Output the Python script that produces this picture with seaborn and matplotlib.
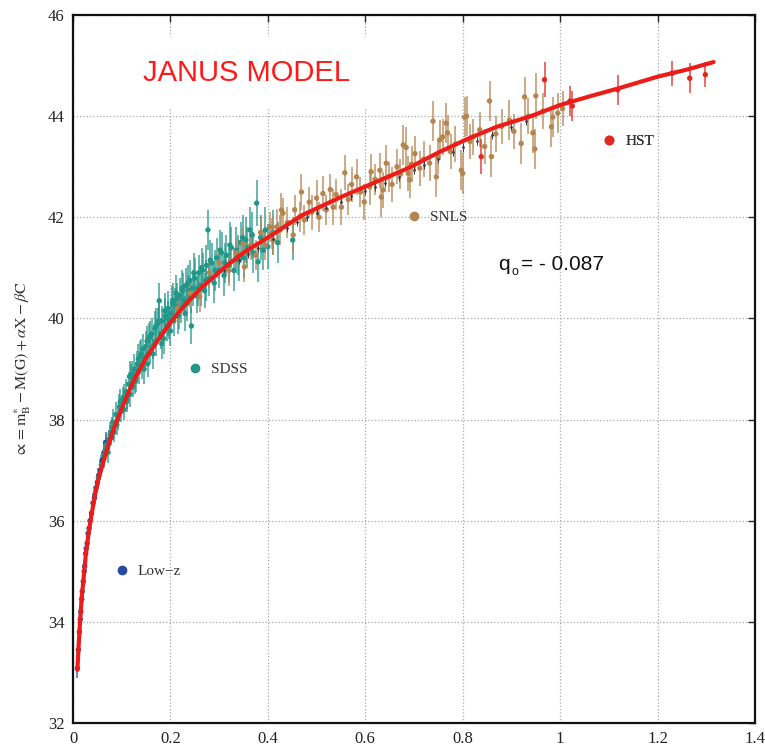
import matplotlib
matplotlib.use("Agg")
import matplotlib.pyplot as plt
from matplotlib.lines import Line2D
import seaborn as sns
import pandas as pd

# ---------------- data ----------------
CURVE_Z = [0.009, 0.012, 0.0145, 0.018, 0.021, 0.026, 0.031, 0.038, 0.045, 0.053, 0.062,
           0.072, 0.085, 0.096, 0.107, 0.125, 0.15, 0.175, 0.2, 0.23, 0.265, 0.31, 0.35,
           0.40, 0.47, 0.55, 0.62, 0.69, 0.75, 0.81, 0.87, 0.94, 1.0, 1.06, 1.12, 1.2,
           1.26, 1.315]
CURVE_MU = [33.05, 33.6, 34.0, 34.5, 34.78, 35.3, 35.68, 36.12, 36.5, 36.85, 37.15,
            37.48, 37.85, 38.12, 38.38, 38.78, 39.22, 39.58, 39.92, 40.27, 40.62, 41.0, 41.3,
            41.6, 42.04, 42.4, 42.69, 42.98, 43.28, 43.55, 43.79, 44.0, 44.22, 44.39, 44.55, 44.78,
            44.92, 45.07]

LOWZ_Z = [0.009, 0.011, 0.013, 0.015, 0.016, 0.018, 0.019, 0.021, 0.023, 0.024, 0.026, 0.027,
          0.029, 0.031, 0.033, 0.035, 0.038, 0.041, 0.044, 0.047, 0.05, 0.053, 0.056, 0.06,
          0.064, 0.067, 0.07, 0.074, 0.078, 0.082]
LOWZ_MU = [33.08, 33.45, 33.8, 34.05, 34.2, 34.45, 34.6, 34.8, 35.0, 35.1, 35.35, 35.45,
           35.55, 35.75, 35.85, 36.0, 36.15, 36.35, 36.45, 36.65, 36.75, 36.9, 37.0, 37.2,
           37.35, 37.55, 37.5, 37.6, 37.65, 37.75]
LOWZ_ERR = [0.2, 0.15, 0.15, 0.18, 0.15, 0.2, 0.15, 0.15, 0.18, 0.15, 0.15, 0.15,
            0.2, 0.15, 0.15, 0.18, 0.15, 0.2, 0.15, 0.15, 0.18, 0.15, 0.2, 0.15,
            0.18, 0.2, 0.15, 0.2, 0.15, 0.15]

SDSS_Z = [0.052, 0.058, 0.063, 0.068, 0.072, 0.076, 0.08, 0.084, 0.088, 0.092, 0.095, 0.098,
          0.102, 0.105, 0.108, 0.111, 0.114, 0.117, 0.12, 0.123, 0.126, 0.129, 0.132, 0.135,
          0.138, 0.141, 0.144, 0.147, 0.15, 0.153, 0.156, 0.159, 0.162, 0.165, 0.168, 0.171,
          0.174, 0.177, 0.18, 0.183, 0.186, 0.189, 0.192, 0.195, 0.198, 0.201, 0.204, 0.207,
          0.21, 0.213, 0.216, 0.219, 0.222, 0.225, 0.228, 0.231, 0.234, 0.237, 0.24, 0.243,
          0.246, 0.25, 0.254, 0.258, 0.262, 0.266, 0.27, 0.274, 0.277, 0.28, 0.285, 0.29,
          0.295, 0.3, 0.305, 0.31, 0.315, 0.32, 0.325, 0.33, 0.335, 0.34, 0.345, 0.35,
          0.355, 0.363, 0.37, 0.377, 0.38, 0.385, 0.39, 0.395, 0.4, 0.41, 0.42, 0.451,
          0.066, 0.074, 0.082, 0.09, 0.097, 0.104, 0.11, 0.116, 0.122, 0.128, 0.134, 0.14,
          0.146, 0.152, 0.158, 0.164, 0.17, 0.176, 0.182, 0.188, 0.194, 0.2, 0.206, 0.212,
          0.218, 0.224, 0.23, 0.236, 0.242, 0.248, 0.256, 0.264, 0.272, 0.282, 0.292, 0.302,
          0.312, 0.322, 0.338, 0.348, 0.358, 0.368]
SDSS_MU = [36.85, 37.1, 37.3, 37.5, 37.35, 37.7, 37.85, 37.75, 38.1, 38.0, 38.25, 38.15,
           38.4, 38.2, 38.55, 38.4, 38.7, 38.5, 38.85, 38.65, 39.0, 38.8, 39.1, 38.95,
           39.25, 39.05, 39.4, 39.2, 39.45, 39.1, 39.6, 39.35, 39.7, 39.45, 39.8, 39.55,
           39.9, 40.35, 39.7, 39.95, 39.6, 40.05, 39.85, 40.2, 39.9, 40.1, 40.3, 39.95,
           40.25, 40.4, 40.05, 40.45, 40.2, 40.55, 40.35, 40.65, 40.3, 40.55, 40.75, 39.85,
           40.6, 40.8, 40.45, 40.9, 40.65, 40.95, 40.55, 41.05, 41.75, 40.8, 41.1, 40.7,
           41.2, 40.95, 41.3, 40.85, 41.25, 41.05, 41.4, 40.95, 41.35, 41.15, 41.5, 41.2,
           41.55, 41.75, 41.3, 42.28, 41.12, 41.6, 41.35, 41.75, 41.42, 41.7, 41.5, 41.55,
           37.4, 37.6, 37.95, 37.9, 38.35, 38.45, 38.35, 38.85, 38.9, 38.75, 39.2, 39.3,
           39.0, 39.55, 39.65, 39.3, 39.85, 39.95, 39.5, 40.15, 40.0, 39.75, 40.35, 40.5,
           40.15, 40.6, 40.1, 40.7, 40.45, 40.9, 40.6, 41.0, 40.75, 41.15, 40.95, 41.35,
           41.1, 41.45, 41.25, 41.6, 41.4, 41.65]
SDSS_ERR = [0.2, 0.2, 0.25, 0.2, 0.2, 0.25, 0.2, 0.2, 0.25, 0.2, 0.25, 0.2,
            0.25, 0.2, 0.25, 0.2, 0.25, 0.25, 0.25, 0.2, 0.3, 0.25, 0.25, 0.25,
            0.3, 0.25, 0.3, 0.25, 0.3, 0.25, 0.3, 0.25, 0.3, 0.25, 0.35, 0.3,
            0.3, 0.35, 0.3, 0.3, 0.3, 0.35, 0.3, 0.35, 0.3, 0.3, 0.35, 0.3,
            0.35, 0.3, 0.35, 0.35, 0.3, 0.35, 0.3, 0.35, 0.35, 0.3, 0.4, 0.35,
            0.35, 0.4, 0.35, 0.35, 0.4, 0.35, 0.35, 0.4, 0.4, 0.35, 0.4, 0.4,
            0.4, 0.35, 0.4, 0.4, 0.4, 0.35, 0.4, 0.4, 0.45, 0.4, 0.4, 0.4,
            0.45, 0.45, 0.4, 0.45, 0.4, 0.45, 0.4, 0.45, 0.45, 0.45, 0.4, 0.4,
            0.2, 0.2, 0.25, 0.2, 0.25, 0.25, 0.2, 0.3, 0.25, 0.25, 0.3, 0.3,
            0.3, 0.3, 0.3, 0.3, 0.35, 0.35, 0.3, 0.35, 0.35, 0.3, 0.35, 0.35,
            0.35, 0.35, 0.35, 0.35, 0.35, 0.4, 0.35, 0.4, 0.4, 0.4, 0.4, 0.4,
            0.4, 0.45, 0.4, 0.45, 0.4, 0.45]

SNLS_Z = [0.215, 0.24, 0.26, 0.28, 0.3, 0.32, 0.335, 0.349, 0.352, 0.365, 0.375, 0.385,
          0.395, 0.404, 0.408, 0.411, 0.418, 0.425, 0.428, 0.431, 0.44, 0.452, 0.455, 0.466,
          0.469, 0.475, 0.485, 0.49, 0.5, 0.505, 0.513, 0.52, 0.528, 0.534, 0.54, 0.551,
          0.558, 0.565, 0.572, 0.582, 0.59, 0.598, 0.609, 0.612, 0.62, 0.63, 0.633, 0.637,
          0.643, 0.648, 0.655, 0.665, 0.672, 0.678, 0.684, 0.688, 0.691, 0.695, 0.702, 0.712,
          0.72, 0.732, 0.739, 0.746, 0.749, 0.753, 0.759, 0.766, 0.769, 0.775, 0.785, 0.797,
          0.8, 0.804, 0.808, 0.815, 0.821, 0.835, 0.845, 0.855, 0.859, 0.868, 0.88, 0.896,
          0.905, 0.92, 0.927, 0.935, 0.944, 0.948, 0.95, 0.965, 0.982, 0.985, 0.995, 1.005]
SNLS_MU = [40.2, 40.5, 40.43, 40.9, 41.1, 40.95, 41.3, 41.48, 41.02, 41.45, 41.25, 41.7,
           41.45, 41.81, 41.68, 41.55, 41.81, 41.75, 42.14, 42.08, 41.9, 41.65, 42.15, 42.01,
           42.5, 41.95, 42.3, 42.1, 42.38, 42.0, 42.47, 42.15, 42.55, 42.2, 42.45, 42.2,
           42.88, 42.35, 42.65, 42.8, 42.5, 42.3, 42.6, 42.9, 42.75, 42.93, 42.4, 42.54,
           43.07, 42.8, 42.65, 43.0, 42.85, 43.43, 43.38, 42.87, 42.74, 43.05, 43.26, 42.97,
           43.15, 43.07, 43.9, 42.8, 43.2, 43.53, 43.59, 43.86, 43.67, 43.3, 43.45, 42.93,
           42.87, 43.98, 44.0, 43.5, 43.59, 43.73, 43.4, 44.3, 43.2, 43.65, 43.8, 43.92,
           43.7, 43.46, 44.38, 44.0, 43.67, 43.35, 44.4, 44.1, 43.79, 43.98, 44.06, 44.15]
SNLS_ERR = [0.3, 0.3, 0.3, 0.3, 0.3, 0.3, 0.3, 0.3, 0.3, 0.3, 0.3, 0.3,
            0.3, 0.3, 0.3, 0.3, 0.35, 0.3, 0.35, 0.3, 0.3, 0.35, 0.3, 0.3,
            0.35, 0.3, 0.3, 0.35, 0.35, 0.3, 0.35, 0.3, 0.3, 0.35, 0.3, 0.35,
            0.35, 0.3, 0.35, 0.35, 0.3, 0.35, 0.35, 0.35, 0.3, 0.35, 0.4, 0.35,
            0.35, 0.3, 0.35, 0.35, 0.3, 0.4, 0.4, 0.35, 0.35, 0.35, 0.35, 0.35,
            0.35, 0.35, 0.4, 0.4, 0.35, 0.4, 0.35, 0.4, 0.35, 0.35, 0.35, 0.4,
            0.4, 0.4, 0.4, 0.35, 0.35, 0.35, 0.35, 0.4, 0.4, 0.35, 0.35, 0.4,
            0.35, 0.4, 0.4, 0.35, 0.4, 0.4, 0.45, 0.35, 0.4, 0.4, 0.4, 0.35]

HST_Z = [0.838, 0.968, 1.02, 1.025, 1.118, 1.23, 1.266, 1.298]
HST_MU = [43.2, 44.72, 44.3, 44.2, 44.52, 44.85, 44.75, 44.82]
HST_ERR = [0.35, 0.35, 0.3, 0.3, 0.3, 0.25, 0.3, 0.25]

DARK_Z = [0.31, 0.34, 0.36, 0.38, 0.41, 0.44, 0.46, 0.48, 0.5, 0.52, 0.55, 0.57, 0.6,
          0.62, 0.64, 0.67, 0.7, 0.72, 0.75, 0.78, 0.8, 0.83, 0.86, 0.9, 0.93]
DARK_MU = [40.95, 41.15, 41.28, 41.4, 41.58, 41.78, 41.9, 42.0, 42.08, 42.18, 42.3, 42.42, 42.52,
           42.6, 42.68, 42.8, 42.93, 43.03, 43.15, 43.3, 43.38, 43.5, 43.63, 43.78, 43.9]

SURVEYS = ["Low\u2212z", "SDSS", "SNLS", "HST"]
COLORS = {"Low\u2212z": "#2c4a9c", "SDSS": "#23968a", "SNLS": "#b5854f", "HST": "#e3261e"}
LEGEND_ANCHOR = {"Low\u2212z": (0.088, 35.0), "SDSS": (0.238, 39.0),
                 "SNLS": (0.688, 42.0), "HST": (1.088, 43.5)}

X_TICKS = [0, 0.2, 0.4, 0.6, 0.8, 1.0, 1.2, 1.4]
X_TICKLABELS = ["0", "0.2", "0.4", "0.6", "0.8", "1", "1.2", "1.4"]
Y_TICKS = [32, 34, 36, 38, 40, 42, 44, 46]

# ---------------- styling ----------------
sns.set_style("white")
plt.rcParams["font.family"] = ["Liberation Serif", "DejaVu Serif"]
plt.rcParams["mathtext.fontset"] = "stix"

fig = plt.figure(figsize=(7.65, 7.47), dpi=100)
ax = fig.add_axes([73 / 765, 1 - 723 / 747, 682 / 765, 708 / 747])

frames = []
for name, zz, mm, ee in [("Low\u2212z", LOWZ_Z, LOWZ_MU, LOWZ_ERR),
                         ("SDSS", SDSS_Z, SDSS_MU, SDSS_ERR),
                         ("SNLS", SNLS_Z, SNLS_MU, SNLS_ERR),
                         ("HST", HST_Z, HST_MU, HST_ERR)]:
    frames.append(pd.DataFrame({"z": zz, "mu": mm, "err": ee, "survey": name}))
df = pd.concat(frames, ignore_index=True)

# error bars
for name in SURVEYS:
    sub = df[df["survey"] == name]
    ax.errorbar(sub["z"], sub["mu"], yerr=sub["err"], fmt="none",
                ecolor=COLORS[name], elinewidth=1.2, alpha=0.8, zorder=2)
ax.errorbar(DARK_Z, DARK_MU, yerr=[0.08] * len(DARK_Z), fmt="none",
            ecolor="#3b3b46", elinewidth=0.7, zorder=2)

sns.scatterplot(data=df, x="z", y="mu", hue="survey", palette=COLORS,
                hue_order=SURVEYS, s=15, linewidth=0, legend=False, ax=ax, zorder=3)
ax.scatter(DARK_Z, DARK_MU, s=4, color="#3b3b46", zorder=3, linewidths=0)

curve = pd.DataFrame({"z": CURVE_Z, "mu": CURVE_MU})
sns.lineplot(data=curve, x="z", y="mu", color="#ee1c18", linewidth=3.0,
             estimator=None, sort=False, ax=ax, zorder=5)

ax.set_xlim(0, 1.4)
ax.set_ylim(32, 46)
ax.set_xticks(X_TICKS)
ax.set_xticklabels(X_TICKLABELS)
ax.set_yticks(Y_TICKS)
ax.set_xlabel("")
ax.set_ylabel(r"$\propto = \mathrm{m}^{*}_{\mathrm{B}} - \mathrm{M(G)} + \alpha\mathrm{X} - \beta\mathrm{C}$",
              fontsize=11.5, color="#333333")
ax.yaxis.set_label_coords(-0.058, 0.5)

ax.grid(True, linestyle=":", color="#a8a8a8", linewidth=0.9)
ax.set_axisbelow(True)
for sp in ax.spines.values():
    sp.set_visible(True)
    sp.set_color("#111111")
    sp.set_linewidth(1.6)
ax.tick_params(direction="in", top=True, right=True, length=5, width=1,
               labelsize=12, labelcolor="#222222", pad=6)

# legend entries placed inside the plot
for name in SURVEYS:
    h = Line2D([], [], marker="o", linestyle="", color=COLORS[name], markersize=6)
    leg = ax.legend(handles=[h], labels=[name], loc="center left",
                    bbox_to_anchor=LEGEND_ANCHOR[name], bbox_transform=ax.transData,
                    frameon=False, handlelength=0.8, handletextpad=0.65,
                    borderpad=0, borderaxespad=0,
                    prop={"family": "Liberation Serif", "size": 11})
    for t in leg.get_texts():
        t.set_color("#333333")
    ax.add_artist(leg)

ax.text(0.357, 44.86, "JANUS MODEL", color="#ff1a1a", fontsize=21,
        family="Liberation Sans", ha="center", va="center", zorder=6,
        bbox=dict(boxstyle="square,pad=0.75", facecolor="white", edgecolor="none"))

# q_o annotation
Q_POS = (0.872, 40.96)
ax.annotate("q", xy=Q_POS, xycoords="data", fontsize=15, family="Liberation Sans",
            color="#111111", ha="left", va="baseline", zorder=6)
ax.annotate("o", xy=Q_POS, xycoords="data", xytext=(9.6, -1.5), textcoords="offset points",
            fontsize=9, family="Liberation Sans", color="#111111",
            ha="left", va="center", zorder=6)
ax.annotate("= - 0.087", xy=Q_POS, xycoords="data", xytext=(16.8, 0), textcoords="offset points",
            fontsize=15, family="Liberation Sans", color="#111111",
            ha="left", va="baseline", zorder=6)

fig.savefig("out.png", dpi=100)
